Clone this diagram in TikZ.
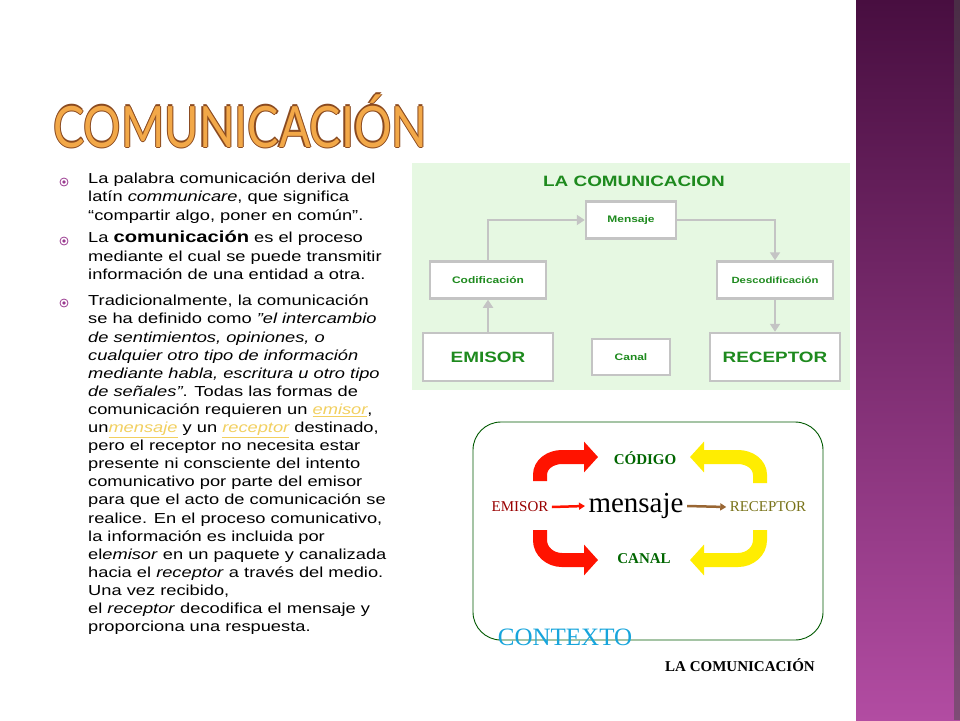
\documentclass[tikz,border=0pt]{standalone}
\usepackage{fontspec}
\setmainfont{Liberation Sans}[FakeStretch=1.26]
\newfontfamily\serifx{Liberation Serif}
\newfontfamily\titlef{Lato}[FakeStretch=0.82]
\usetikzlibrary{arrows.meta}
\definecolor{ttl}{HTML}{F2A848}
\definecolor{ttlo}{HTML}{8A4A20}
\definecolor{bul}{HTML}{9A3A90}
\definecolor{gtxt}{HTML}{1E8A1E}
\definecolor{gbg}{HTML}{E6F8E2}
\definecolor{gbd}{HTML}{C4C4C4}
\definecolor{lnk}{HTML}{F2D060}
\tikzset{
  para/.style={anchor=north west,align=left,inner sep=0pt,font=\fontsize{14.5}{18.1}\selectfont},
  bulletm/.style={circle,draw=bul,line width=0.8pt,minimum size=8pt,inner sep=0pt},
  gbox/.style={draw=gbd,line width=2.5pt,fill=white,text=gtxt,font=\bfseries,inner sep=0pt},
  garr/.style={draw=gbd,line width=1.8pt,-{Triangle[length=8pt,width=10pt]}},
  bigarr/.style={line width=14pt,-{Triangle[length=14pt 0,width=30pt 0]}},
  cdtxt/.style={font=\serifx\bfseries\fontsize{15}{15}\selectfont,text=green!40!black}
}
\begin{document}
\begin{tikzpicture}[x=1pt,y=-1pt]
\useasboundingbox (0,0) rectangle (960,720);
\fill[white] (0,0) rectangle (960,720);
% right stripe
\shade[top color={rgb,255:red,72;green,14;blue,64},bottom color={rgb,255:red,178;green,76;blue,162}] (856,0) rectangle (960,720);
\fill[black!70,opacity=0.5] (954,0) rectangle (960,720);
% title
\foreach \dx/\dy in {-1.2/0,1.2/0,0/-1.2,0/1.2}
  \node[anchor=west,inner sep=0pt,text=ttlo,font=\titlef\fontsize{57}{57}\selectfont] at (53+\dx,121+\dy) {COMUNICACIÓN};
\node (title) [anchor=west,inner sep=0pt,text=ttl,font=\titlef\fontsize{57}{57}\selectfont] at (53,121) {COMUNICACIÓN};
% bullets
\node[bulletm] (b1) at (64,182) {}; \fill[bul] (b1) circle (1.8pt);
\node[bulletm] (b2) at (64,241) {}; \fill[bul] (b2) circle (1.8pt);
\node[bulletm] (b3) at (64,303) {}; \fill[bul] (b3) circle (1.8pt);
\node[para] (p1) at (88,173) {La palabra comunicación deriva del\\latín \textit{communicare}, que significa\\“compartir algo, poner en común”.};
\node[para] (p2) at (88,231) {La \textbf{\fontsize{16}{16}\selectfont comunicación} es el proceso\\mediante el cual se puede transmitir\\información de una entidad a otra.};
\node[para] (p3) at (88,295) {Tradicionalmente, la comunicación\\se ha definido como \textit{"el intercambio}\\\textit{de sentimientos, opiniones, o}\\\textit{cualquier otro tipo de información}\\\textit{mediante habla, escritura u otro tipo}\\\textit{de señales"}. Todas las formas de\\comunicación requieren un \textcolor{lnk}{\textit{\underline{emisor}}},\\un\textcolor{lnk}{\textit{\underline{mensaje}}} y un \textcolor{lnk}{\textit{\underline{receptor}}} destinado,\\pero el receptor no necesita estar\\presente ni consciente del intento\\comunicativo por parte del emisor\\para que el acto de comunicación se\\realice. En el proceso comunicativo,\\la información es incluida por\\el\textit{emisor} en un paquete y canalizada\\hacia el \textit{receptor} a través del medio.\\Una vez recibido,\\el \textit{receptor} decodifica el mensaje y\\proporciona una respuesta.};
% top diagram
\fill[gbg] (412,163) rectangle (850,390);
\node (gt) [text=gtxt,font=\bfseries\fontsize{15}{15}\selectfont] at (634,181) {LA COMUNICACION};
\node[gbox,minimum width=90pt,minimum height=37pt,font=\bfseries\fontsize{9.5}{9.5}\selectfont] (men) at (631,220) {Mensaje};
\node[gbox,minimum width=116pt,minimum height=37pt,font=\bfseries\fontsize{9.5}{9.5}\selectfont] (cod) at (488,280) {Codificación};
\node[gbox,minimum width=116pt,minimum height=37pt,font=\bfseries\fontsize{9}{9}\selectfont] (des) at (775,280) {Descodificación};
\node[gbox,minimum width=130pt,minimum height=48pt,font=\bfseries\fontsize{15}{15}\selectfont] (emi) at (488,357) {EMISOR};
\node[gbox,minimum width=78pt,minimum height=36pt,font=\bfseries\fontsize{9.5}{9.5}\selectfont] (can) at (631,357) {Canal};
\node[gbox,minimum width=130pt,minimum height=48pt,font=\bfseries\fontsize{15}{15}\selectfont] (rec) at (775,357) {RECEPTOR};
\draw[garr] (emi.north) -- (cod.south);
\draw[garr] (cod.north) |- (men.west);
\draw[garr] (men.east) -| (des.north);
\draw[garr] (des.south) -- (rec.north);
% bottom diagram
\draw[green!35!black,line width=0.9pt,rounded corners=28pt] (473,422) rectangle (823,640);
\draw[bigarr,red!85!orange] (540,481) -- (540,475) to[out=90,in=180] (562,457) -- (598,457);
\draw[bigarr,red!85!orange] (540,530) -- (540,540) to[out=-90,in=180] (562,560) -- (598,560);
\draw[bigarr,yellow!95!orange] (760,483) -- (760,475) to[out=90,in=0] (738,457) -- (690,457);
\draw[bigarr,yellow!95!orange] (760,530) -- (760,540) to[out=-90,in=0] (738,560) -- (690,560);
\node[cdtxt] (codg) at (645,458) {CÓDIGO};
\node[cdtxt] (canl) at (644,559) {CANAL};
\node (em2) [font=\serifx\fontsize{15}{15}\selectfont,text=red!60!black] at (520,507) {EMISOR};
\node (ms) [font=\serifx\fontsize{29}{29}\selectfont] at (636,506) {mensaje};
\node (re2) [font=\serifx\fontsize{15}{15}\selectfont,text=olive!80!black] at (768,507) {RECEPTOR};
\draw[red!85!orange,line width=2.5pt,-{Triangle[length=6pt 0,width=7pt 0]}] (em2.east) -- (ms.west);
\draw[brown!80!black,line width=2.5pt,-{Triangle[length=6pt 0,width=7pt 0]}] (ms.east) -- (re2.west);
\node (ctx) [font=\serifx\fontsize{25}{25}\selectfont,text=cyan!80!teal] at (565,637) {CONTEXTO};
\node (lac) [font=\serifx\bfseries\fontsize{15}{15}\selectfont] at (740,665) {LA COMUNICACIÓN};
\end{tikzpicture}
\end{document}
